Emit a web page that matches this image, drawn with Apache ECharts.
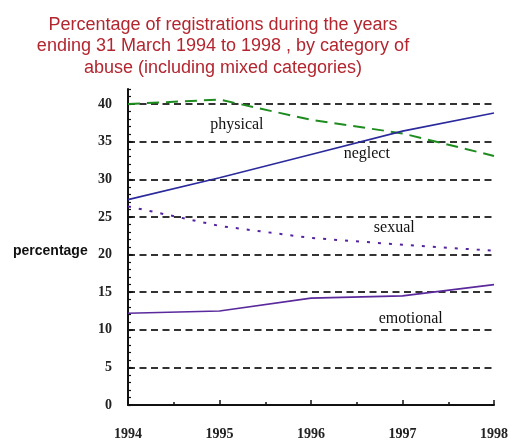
<!DOCTYPE html>
<html>
<head>
<meta charset="utf-8">
<script src="https://cdn.jsdelivr.net/npm/echarts@6/dist/echarts.min.js"></script>
<style>html,body{margin:0;padding:0;background:#fff}#c{width:511px;height:441px}</style>
</head>
<body>
<div id="c"></div>
<script>
const years = [1994, 1995, 1996, 1997, 1998];
const physical = [40.0, 40.6, 37.9, 36.1, 33.1];
const neglect = [27.3, 30.2, 33.3, 36.4, 38.8];
const sexual = [26.4, 23.8, 22.2, 21.3, 20.5];
const emotional = [12.2, 12.5, 14.2, 14.5, 16.0];
const yTicks = [0, 5, 10, 15, 20, 25, 30, 35, 40];
const labelNames = ['physical', 'neglect', 'sexual', 'emotional'];
const labelX = [1995.19, 1996.61, 1996.91, 1997.09];
const labelY = [37.3, 33.4, 23.5, 11.5];
const titleText = 'Percentage of registrations during the years\nending 31 March 1994 to 1998 , by category of\nabuse (including mixed categories)';
const yName = 'percentage';

function pairs(vals) { return years.map((y, i) => [y, vals[i]]); }
function note(i) {
  return {
    type: 'scatter', data: [], silent: true,
    markPoint: {
      symbol: 'circle', symbolSize: 0, silent: true,
      label: { show: true, position: 'inside', formatter: labelNames[i],
        fontFamily: 'Liberation Serif', fontSize: 16, color: '#111' },
      data: [{ coord: [labelX[i], labelY[i]] }]
    }
  };
}
const chart = echarts.init(document.getElementById('c'), null, { renderer: 'canvas' });
chart.setOption({
  animation: false,
  title: {
    text: titleText, left: 218, top: 9, textAlign: 'center',
    textStyle: { color: '#b3262f', fontFamily: 'Liberation Sans', fontSize: 18,
      fontWeight: 'normal', lineHeight: 21.5 }
  },
  graphic: [{ type: 'text', left: 13, top: 244,
    style: { text: yName, font: 'bold 14px "Liberation Sans"', fill: '#111' } }],
  grid: { left: 128, right: 16, top: 89, bottom: 33.5 },
  xAxis: {
    type: 'value', min: years[0], max: years[years.length - 1], interval: 1,
    axisLine: { lineStyle: { color: '#111', width: 2 } },
    axisTick: { inside: true, length: 5, lineStyle: { color: '#111', width: 1.5 } },
    minorTick: { show: true, splitNumber: 2, length: 3, lineStyle: { color: '#111', width: 1.5 } },
    splitLine: { show: false },
    axisLabel: { margin: 22, formatter: v => String(v), fontFamily: 'Liberation Serif',
      fontWeight: 'bold', fontSize: 14, color: '#222' }
  },
  yAxis: [{
    type: 'value', min: 0, max: 42, interval: 5,
    axisLine: { show: true, lineStyle: { color: '#111', width: 2 } },
    axisTick: { show: true, inside: true, length: 5, lineStyle: { color: '#111', width: 1.5 } },
    axisLabel: { margin: 16, showMaxLabel: false,
      formatter: v => (yTicks.indexOf(v) >= 0 ? String(v) : ''),
      fontFamily: 'Liberation Serif', fontWeight: 'bold', fontSize: 14, color: '#222' },
    splitLine: { show: true, showMinLine: false, showMaxLine: false,
      lineStyle: { color: '#333', width: 2, type: [7, 4.5] } }
  }, {
    type: 'value', min: 0, max: 42, interval: 1, position: 'left',
    axisLine: { show: false },
    axisTick: { show: true, inside: true, length: 3, lineStyle: { color: '#111', width: 1.2 } },
    axisLabel: { show: false }, splitLine: { show: false }
  }],
  series: [
    { type: 'line', data: pairs(physical), symbol: 'none',
      lineStyle: { color: '#1e8c1e', width: 2, type: [12, 7] } },
    { type: 'line', data: pairs(neglect), symbol: 'none',
      lineStyle: { color: '#2a2a9c', width: 1.6 } },
    { type: 'line', data: pairs(sexual), symbol: 'none',
      lineStyle: { color: '#5522a0', width: 2, type: [3, 8] } },
    { type: 'line', data: pairs(emotional), symbol: 'none',
      lineStyle: { color: '#5a2a9c', width: 1.6 } },
    note(0), note(1), note(2), note(3)
  ]
});
</script>
</body>
</html>
